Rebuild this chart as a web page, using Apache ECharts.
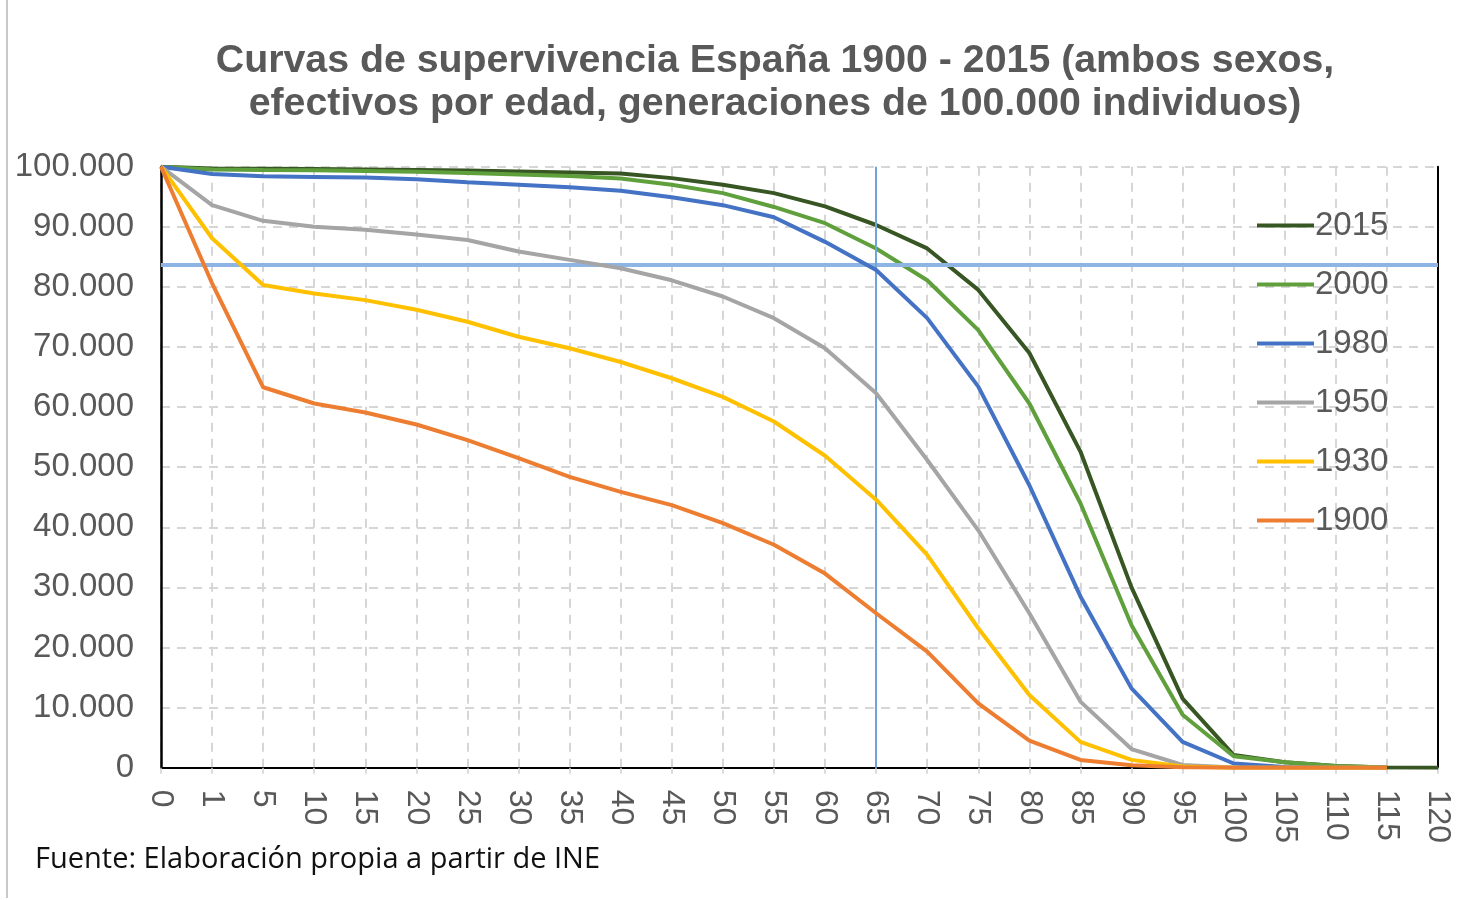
<!DOCTYPE html>
<html>
<head>
<meta charset="utf-8">
<script src="https://cdn.jsdelivr.net/npm/echarts@6/dist/echarts.min.js"></script>
<style>
html,body{margin:0;padding:0;background:#fff;}
#chart{width:1466px;height:900px;}
</style>
</head>
<body>
<div id="chart"></div>
<script>
const ages = ['0','1','5','10','15','20','25','30','35','40','45','50','55','60','65','70','75','80','85','90','95','100','105','110','115','120'];
const yTicks = [0,10000,20000,30000,40000,50000,60000,70000,80000,90000,100000];

const s2015 = [100000, 99700, 99650, 99600, 99550, 99450, 99350, 99200, 99050, 98850, 98100, 97000, 95600, 93400, 90300, 86400, 79500, 69000, 52600, 30000, 11500, 2100, 900, 300, 50, 0];
const s2000 = [100000, 99550, 99450, 99400, 99300, 99150, 98950, 98700, 98450, 98050, 97000, 95600, 93300, 90600, 86400, 81100, 72800, 60600, 44000, 23700, 8800, 1900, 900, 300, 50, null];
const s1980 = [100000, 98800, 98400, 98300, 98200, 97900, 97400, 97000, 96600, 96000, 94900, 93600, 91600, 87500, 82800, 74800, 63400, 47000, 28500, 13200, 4300, 700, 100, 0, 0, null];
const s1950 = [100000, 93600, 91000, 90000, 89500, 88700, 87800, 85900, 84500, 83100, 81100, 78400, 74800, 69800, 62300, 51200, 39500, 25700, 11000, 3100, 450, 50, 0, 0, 0, null];
const s1930 = [100000, 88100, 80300, 78900, 77800, 76200, 74200, 71700, 69800, 67500, 64800, 61700, 57600, 51900, 44600, 35400, 23200, 12100, 4300, 1300, 200, 0, 0, 0, 0, null];
const s1900 = [100000, 80600, 63300, 60600, 59100, 57100, 54500, 51500, 48400, 45900, 43700, 40700, 37100, 32300, 25700, 19300, 10700, 4500, 1300, 400, 80, 0, 0, 0, 0, null];

const seriesNames = ['2015','2000','1980','1950','1930','1900'];
const seriesData = [s2015, s2000, s1980, s1950, s1930, s1900];
const seriesColors = ['#375623','#5fa03c','#4472c4','#a5a5a5','#ffc000','#ed7d31'];
const refValue = 83700;
const refAge = '65';

const chart = echarts.init(document.getElementById('chart'));
const FONT = 'Liberation Sans, Arial, sans-serif';

const series = seriesNames.map((n, i) => ({
  name: n,
  type: 'line',
  data: seriesData[i],
  symbol: 'none',
  connectNulls: false,
  lineStyle: {color: seriesColors[i], width: 4},
  itemStyle: {color: seriesColors[i]},
  z: 3 + i
}));
series.push({
  name: 'ref',
  type: 'line',
  data: [],
  symbol: 'none',
  z: 20,
  markLine: {
    silent: true,
    symbol: 'none',
    animation: false,
    label: {show: false},
    data: [
      {yAxis: refValue, lineStyle: {color: '#8db4e2', width: 4, type: 'solid'}},
      {xAxis: refAge, lineStyle: {color: '#6fa3dc', width: 2, type: 'solid'}}
    ]
  }
});

chart.setOption({
  animation: false,
  backgroundColor: '#fff',
  title: {
    text: 'Curvas de supervivencia España 1900 - 2015 (ambos sexos,\nefectivos por edad, generaciones de 100.000 individuos)',
    left: 770,
    top: 35,
    textAlign: 'center',
    textStyle: {fontFamily: FONT, fontSize: 39.3, fontWeight: 'bold', color: '#595959', lineHeight: 43}
  },
  legend: {
    data: seriesNames,
    orient: 'vertical',
    left: 1252,
    top: 204,
    icon: 'rect',
    itemWidth: 57,
    itemHeight: 4,
    itemGap: 26,
    textStyle: {fontFamily: FONT, fontSize: 33, color: '#595959', lineHeight: 33, padding: [0, 0, 0, -4]}
  },
  grid: {left: 161, right: 28, top: 166.7, bottom: 132.3, containLabel: false},
  xAxis: [{
    type: 'category',
    data: ages,
    boundaryGap: false,
    axisLine: {lineStyle: {color: '#d0d0d0', width: 2}},
    axisTick: {show: true, length: 6, lineStyle: {color: '#d0d0d0', width: 1.5}},
    axisLabel: {rotate: -90, interval: 0, margin: 22, fontFamily: FONT, fontSize: 32, color: '#595959'},
    splitLine: {show: true, interval: 0, lineStyle: {color: '#d6d6d6', width: 2, type: [9, 7]}}
  }, {
    type: 'category',
    data: ages,
    boundaryGap: false,
    position: 'top',
    axisLine: {show: true, lineStyle: {color: '#000', width: 2}},
    axisTick: {show: false},
    axisLabel: {show: false},
    splitLine: {show: false}
  }],
  yAxis: [{
    type: 'value',
    min: 0,
    max: 100000,
    interval: 10000,
    axisLine: {show: true, lineStyle: {color: '#000', width: 2.5}},
    axisTick: {show: false},
    axisLabel: {
      margin: 27, fontFamily: FONT, fontSize: 33, color: '#595959',
      formatter: v => yTicks.indexOf(v) >= 0 ? (v === 0 ? '0' : (v / 1000).toFixed(0) + '.000') : ''
    },
    splitLine: {show: true, lineStyle: {color: '#d6d6d6', width: 2, type: [9, 7]}}
  }, {
    type: 'value',
    min: 0,
    max: 100000,
    interval: 10000,
    position: 'right',
    axisLine: {show: true, lineStyle: {color: '#000', width: 2}},
    axisTick: {show: false},
    axisLabel: {show: false},
    splitLine: {show: false}
  }],
  graphic: [
    {type: 'line', shape: {x1: 7, y1: 0, x2: 7, y2: 898}, style: {stroke: '#c8c8c8', lineWidth: 2}, silent: true},
    {type: 'text', left: 35, top: 845, style: {text: 'Fuente: Elaboración propia a partir de INE', font: '29px "Open Sans", sans-serif', fill: '#111'}}
  ],
  series: series
});
</script>
</body>
</html>
